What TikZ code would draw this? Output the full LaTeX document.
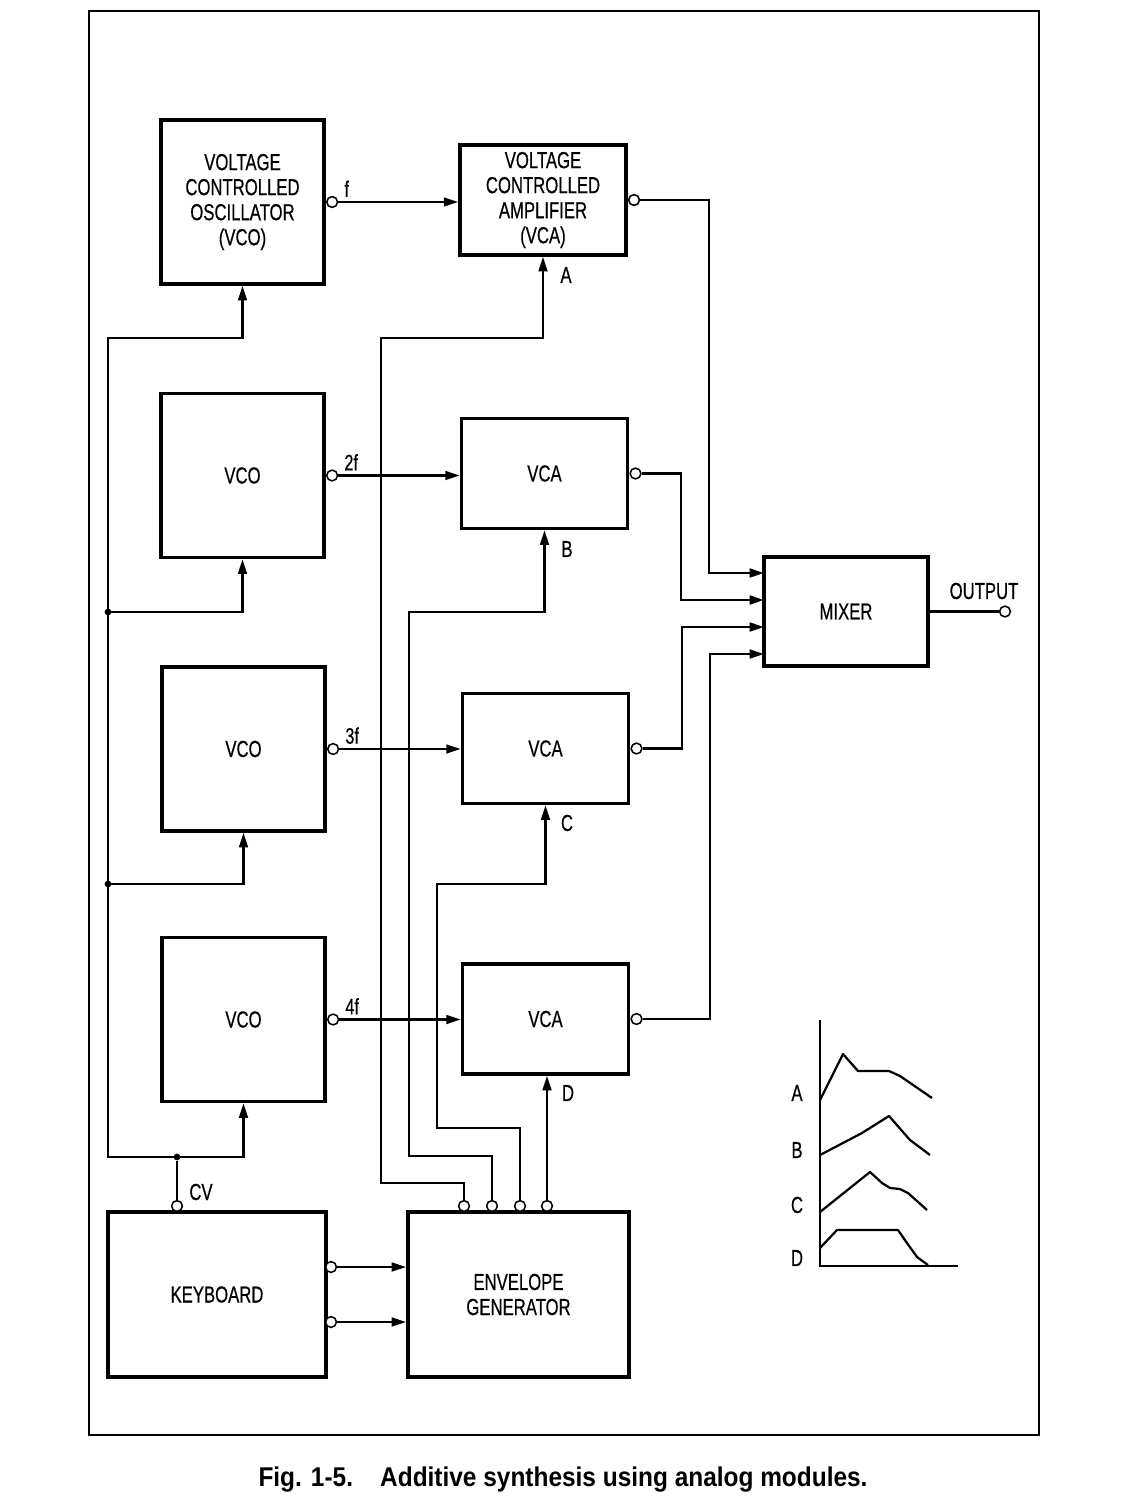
\documentclass[tikz,border=0pt]{standalone}
\usepackage{fontspec}
\setmainfont{Liberation Sans}[FakeStretch=0.72, FakeBold=0.5]
\newfontfamily\capfont{Liberation Sans}[FakeStretch=0.9]
\usetikzlibrary{arrows.meta}

\begin{document}
\begin{tikzpicture}[x=0.025cm, y=-0.025cm, line join=miter,
  font=\fontsize{16.5}{17.8}\selectfont,
  box/.style={draw, line width=2.6pt, align=center, inner sep=0pt},
  vco/.style={box, minimum width=4.08cm, minimum height=4.1cm},
  vca/.style={box, minimum width=4.15cm, minimum height=2.75cm},
  wire/.style={line width=1.6pt},
  sig/.style={wire, -{Triangle[length=0.36cm, width=0.22cm]}},
  port/.style={circle, draw, fill=white, line width=1.1pt, minimum size=0.27cm, inner sep=0pt},
  junc/.style={circle, fill, inner sep=0pt, minimum size=0.17cm},
  lbl/.style={inner sep=0pt, font=\fontsize{16}{17}\selectfont}]

  \useasboundingbox (0,0) rectangle (1122,1506);

  % outer frame
  \draw[line width=2pt] (89,11) rectangle (1039,1435);

  % rows shared by the keyboard bus and the envelope lines
  \coordinate (bus) at (108,0);
  \coordinate (rowA) at (0,338);
  \coordinate (rowB) at (0,612);
  \coordinate (rowC) at (0,884);

  % oscillators
  \node[vco] (vco1) at (242.5,202) {VOLTAGE\\CONTROLLED\\OSCILLATOR\\(VCO)};
  \node[vco] (vco2) at (242.5,475.5) {VCO};
  \node[vco] (vco3) at (243.5,749) {VCO};
  \node[vco] (vco4) at (243.5,1019.5) {VCO};

  % amplifiers
  \node[vca] (vca1) at (543,200) {VOLTAGE\\CONTROLLED\\AMPLIFIER\\(VCA)};
  \node[vca] (vca2) at (544.5,473.5) {VCA};
  \node[vca] (vca3) at (545.5,748.5) {VCA};
  \node[vca] (vca4) at (545.5,1019) {VCA};

  % mixer, keyboard, envelope generator
  \node[box, minimum width=4.1cm, minimum height=2.73cm] (mixer) at (846,611.5) {MIXER};
  \node[box, minimum width=5.45cm, minimum height=4.13cm] (kbd) at (217,1294.5) {KEYBOARD};
  \node[box, minimum width=5.53cm, minimum height=4.13cm] (eg) at (518.5,1294.5) {ENVELOPE\\GENERATOR};

  % VCO -> VCA
  \foreach \i/\t in {1/f,2/2f,3/3f,4/4f} {
    \node[port, anchor=west] (vco\i o) at (vco\i.east) {};
    \draw[sig] (vco\i o) -- (vco\i o -| vca\i.west);
    \node[lbl, anchor=south west] at ([shift={(0.3cm,0.12cm)}]vco\i o.center) {\t};
  }

  % VCA -> mixer
  \coordinate (mx1) at (764,573);
  \coordinate (mx2) at (764,600);
  \coordinate (mx3) at (764,627);
  \coordinate (mx4) at (764,654);
  \foreach \i in {1,...,4} {\node[port, anchor=west] (vca\i o) at (vca\i.east) {};}
  \draw[sig] (vca1o) -| (709,573) -- (mx1);
  \draw[sig] (vca2o) -| (681,600) -- (mx2);
  \draw[sig] (vca3o) -| (682,627) -- (mx3);
  \draw[sig] (vca4o) -| (710,654) -- (mx4);

  % output
  \node[port] (out) at (1005,611.5) {};
  \draw[wire] (mixer.east) -- (out);
  \node (outl) at (984,591) {OUTPUT};

  % keyboard control voltage to the oscillators
  \node[port] (cv) at (177,1206) {};
  \node[junc] (cvj) at (177,1157) {};
  \node (cvl) at (201,1192) {CV};
  \draw[wire] (cv) -- (cvj);
  \draw[sig] (cvj.center) -| (vco4.south);
  \draw[sig] (cvj.center) -| (bus |- rowA) -| (vco1.south);
  \node[junc] (jb) at (bus |- rowB) {};
  \node[junc] (jc) at (bus |- rowC) {};
  \draw[sig] (jb.center) -| (vco2.south);
  \draw[sig] (jc.center) -| (vco3.south);

  % keyboard gates to the envelope generator
  \node[port] (kb1) at (331,1267) {};
  \node[port] (kb2) at (331,1322) {};
  \draw[sig] (kb1) -- (kb1 -| eg.west);
  \draw[sig] (kb2) -- (kb2 -| eg.west);

  % envelopes A..D to the amplifiers
  \node[port] (eg1) at (464,1206) {};
  \node[port] (eg2) at (492,1206) {};
  \node[port] (eg3) at (520,1206) {};
  \node[port] (eg4) at (547,1206) {};
  \draw[sig] (eg1) |- (381,1183) |- (vca1.south |- rowA) -- (vca1.south);
  \draw[sig] (eg2) |- (409,1156) |- (vca2.south |- rowB) -- (vca2.south);
  \draw[sig] (eg3) |- (437,1128) |- (vca3.south |- rowC) -- (vca3.south);
  \draw[sig] (eg4) -- (eg4 |- vca4.south);
  \node (la) at (566,275) {A};
  \node (lb) at (567,549) {B};
  \node (lc) at (567,823) {C};
  \node (ld) at (568,1093) {D};

  % envelope shapes
  \draw[wire] (820,1020) -- (820,1266) -- (958,1266);
  \draw[wire, line join=round] (820,1100) -- (843,1054) -- (858,1071) -- (889,1071) -- (900,1076) -- (932,1098);
  \draw[wire, line join=round] (820,1155) -- (862,1133) -- (889,1116) -- (910,1140) -- (930,1155);
  \draw[wire, line join=round] (820,1212) -- (870,1172) -- (882,1183) -- (890,1188) -- (900,1189) -- (908,1193) -- (927,1210);
  \draw[wire, line join=round] (820,1248) -- (837,1230) -- (898,1230) -- (907,1243) -- (917,1257) -- (928,1265);
  \node at (797,1093) {A};
  \node at (797,1150) {B};
  \node at (797,1205) {C};
  \node at (797,1258) {D};

  % caption
  \node[font=\capfont\bfseries\fontsize{19.3}{21}\selectfont] (cap) at (563,1480)
    {Fig. 1-5.\quad Additive synthesis using analog modules.};
\end{tikzpicture}
\end{document}
